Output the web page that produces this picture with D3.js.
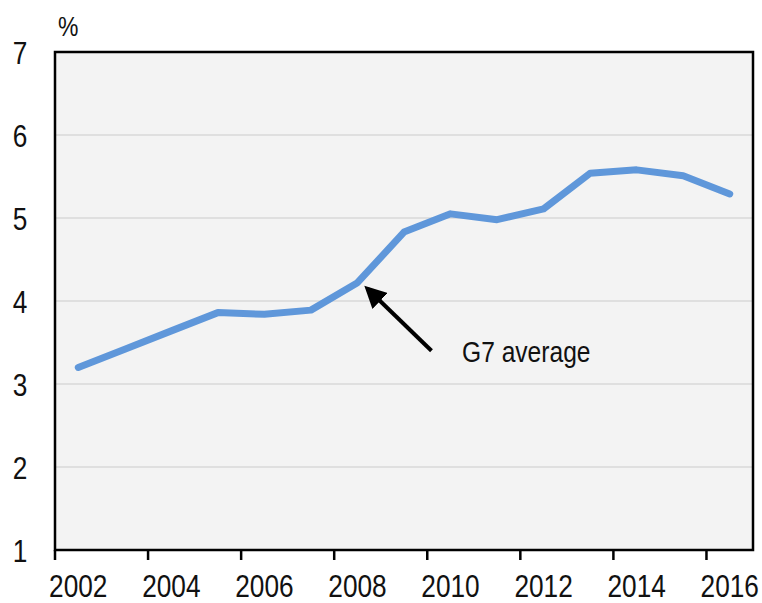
<!DOCTYPE html>
<html>
<head>
<meta charset="utf-8">
<script src="https://cdn.jsdelivr.net/npm/d3@7"></script>
<style>
  body { margin: 0; background: #fff; }
  svg text { font-family: "Liberation Sans", Arial, sans-serif; fill: #111; }
</style>
</head>
<body>
<svg id="chart" width="762" height="603"></svg>
<script>
// G7 average, % (one value per year, plotted mid-year)
var years = [2002, 2003, 2004, 2005, 2006, 2007, 2008, 2009, 2010, 2011, 2012, 2013, 2014, 2015, 2016];
var values = [3.20, 3.42, 3.64, 3.86, 3.84, 3.89, 4.22, 4.83, 5.05, 4.98, 5.11, 5.54, 5.58, 5.51, 5.29];
var xTickYears = [2002, 2004, 2006, 2008, 2010, 2012, 2014, 2016];
var yTicks = [1, 2, 3, 4, 5, 6, 7];
var seriesLabel = "G7 average";

var narrow = 0.82; // fake a narrow face, no Arial Narrow here

var svg = d3.select("#chart"),
    margin = {top: 52, right: 9, bottom: 53, left: 55},
    width = +svg.attr("width") - margin.left - margin.right,
    height = +svg.attr("height") - margin.top - margin.bottom;

var x = d3.scaleLinear().domain([2002, 2017]).range([0, width]);
var y = d3.scaleLinear().domain([1, 7]).range([height, 0]);

// text drawn at (px,py) squeezed horizontally
function label(parent, px, py, txt, size, anchor, dy) {
    parent.append("g")
        .attr("transform", "translate(" + px + "," + py + ") scale(" + narrow + ",1)")
        .append("text")
        .attr("dy", dy || 0)
        .style("text-anchor", anchor || "start")
        .style("font-size", size + "px")
        .text(txt);
}

var g = svg.append("g")
    .attr("transform", "translate(" + margin.left + "," + margin.top + ")");

// plot background
g.append("rect")
    .attr("width", width)
    .attr("height", height)
    .style("fill", "#f3f3f3");

// horizontal grid lines
g.append("g")
    .selectAll("line")
    .data(yTicks.slice(1, -1))
    .enter().append("line")
    .attr("x1", 0)
    .attr("x2", width)
    .attr("y1", function(d) { return y(d); })
    .attr("y2", function(d) { return y(d); })
    .style("stroke", "#d9d9d9")
    .style("stroke-width", 1.3);

// y labels
yTicks.forEach(function(d) {
    label(g, -35, y(d), d, 32, "middle", "0.36em");
});

label(svg, 58, 36, "%", 28, "start");

// x ticks at year starts, labels centred on the year
var xg = g.append("g").attr("transform", "translate(0," + height + ")");
xg.selectAll("line")
    .data(xTickYears)
    .enter().append("line")
    .attr("x1", function(d) { return x(d); })
    .attr("x2", function(d) { return x(d); })
    .attr("y1", 0)
    .attr("y2", 10)
    .style("stroke", "#000")
    .style("stroke-width", 2.5);
xTickYears.forEach(function(d) {
    label(xg, x(d + 0.5), 47, d, 32, "middle");
});

// frame
g.append("rect")
    .attr("width", width)
    .attr("height", height)
    .style("fill", "none")
    .style("stroke", "#000")
    .style("stroke-width", 2.5);

// series line
var line = d3.line()
    .x(function(d, i) { return x(years[i] + 0.5); })
    .y(function(d) { return y(d); });

g.append("path")
    .datum(values)
    .attr("d", line)
    .style("fill", "none")
    .style("stroke", "#5f97da")
    .style("stroke-width", 7)
    .style("stroke-linejoin", "round")
    .style("stroke-linecap", "round");

// annotation arrow pointing at 2008
svg.append("defs").append("marker")
    .attr("id", "arrowhead")
    .attr("viewBox", "0 0 10 10")
    .attr("refX", 8)
    .attr("refY", 5)
    .attr("markerWidth", 5.5)
    .attr("markerHeight", 5.5)
    .attr("markerUnits", "strokeWidth")
    .attr("orient", "auto")
    .append("path")
    .attr("d", "M0,0 L10,5 L0,10 Z")
    .style("fill", "#000");

var tipX = x(2008.5) + 10, tipY = y(4.22) + 6;
g.append("line")
    .attr("x1", tipX + 64)
    .attr("y1", tipY + 62)
    .attr("x2", tipX)
    .attr("y2", tipY)
    .style("stroke", "#000")
    .style("stroke-width", 4)
    .attr("marker-end", "url(#arrowhead)");

label(g, 407, 310, seriesLabel, 30, "start");
</script>
</body>
</html>
